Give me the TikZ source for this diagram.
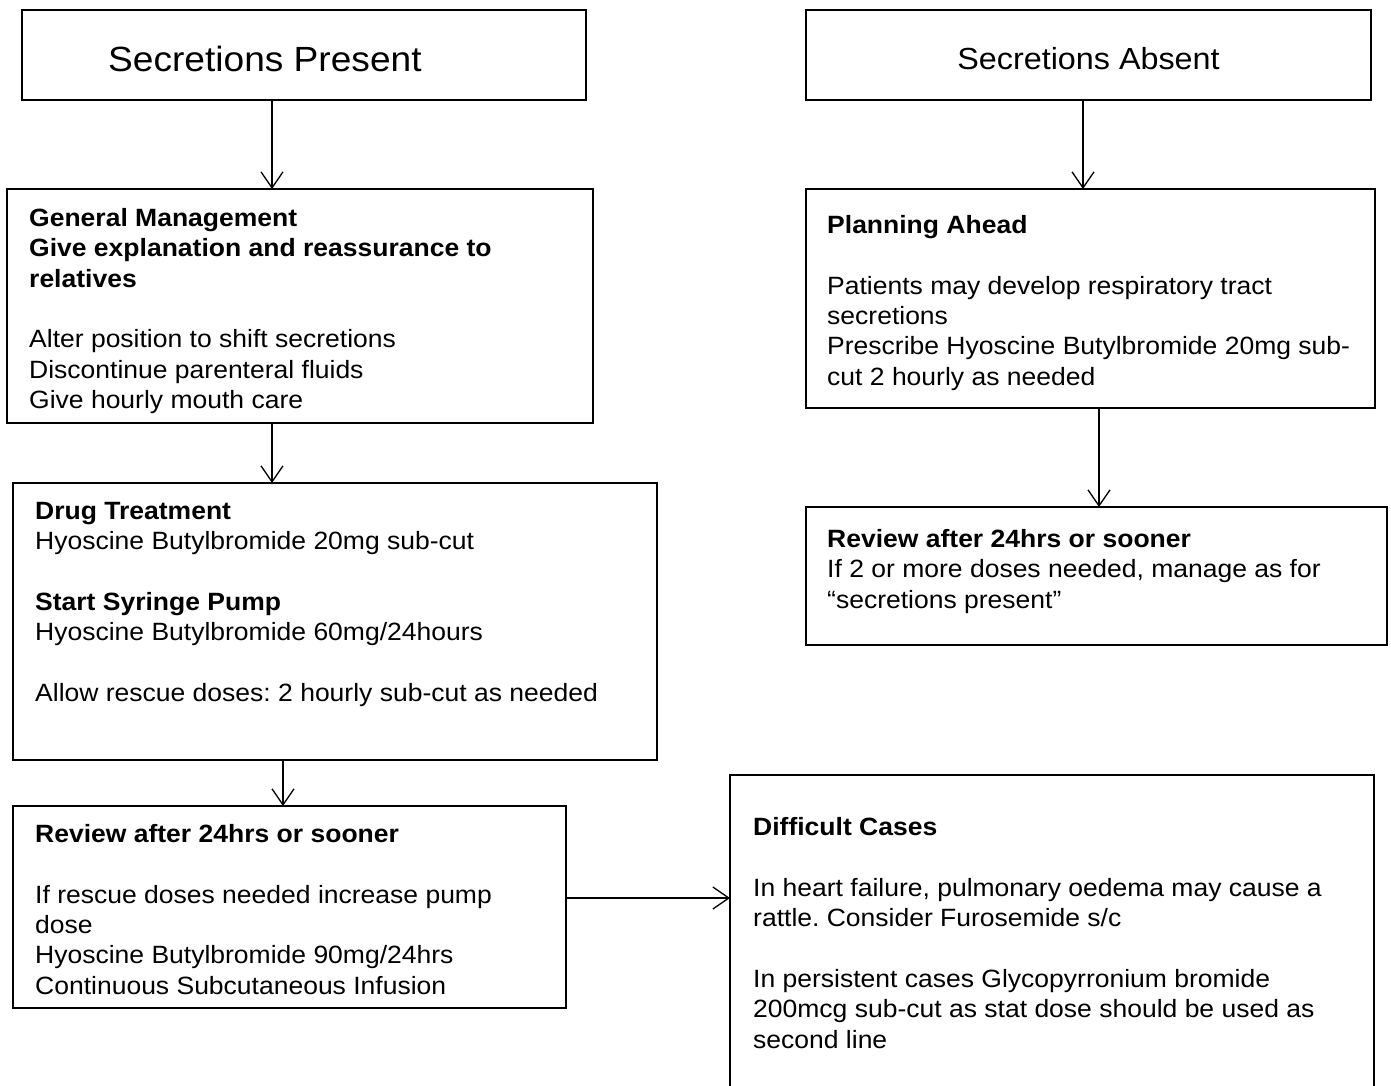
\documentclass[tikz,border=0pt]{standalone}
\usepackage{fontspec}
\setmainfont{Liberation Sans}[FakeStretch=1.06]
\usetikzlibrary{arrows.meta}
\frenchspacing
\begin{document}
\begin{tikzpicture}[x=1pt,y=-1pt,
  box/.style={draw,line width=2.8pt,inner sep=0pt,outer sep=0pt,anchor=north west},
  txt/.style={anchor=north west,align=left,inner sep=0pt,font=\fontsize{25}{30.4}\selectfont},
  arr/.style={line width=1.3pt,-{Straight Barb[length=16pt,width=22pt,line width=1.3pt]}}]
\useasboundingbox (0,0) rectangle (1391,1086);
\clip (0,0) rectangle (1391,1086);
% boxes
\node[box,minimum width=564pt,minimum height=90pt]  (b1) at (22,10) {};
\node[box,minimum width=565pt,minimum height=90pt]  (b2) at (806,10) {};
\node[box,minimum width=586pt,minimum height=234pt] (b3) at (7,189) {};
\node[box,minimum width=569pt,minimum height=219pt] (b4) at (806,189) {};
\node[box,minimum width=644pt,minimum height=277pt] (b5) at (13,483) {};
\node[box,minimum width=581pt,minimum height=138pt] (b6) at (806,507) {};
\node[box,minimum width=553pt,minimum height=202pt] (b7) at (13,806) {};
\node[box,minimum width=644pt,minimum height=330pt] (b8) at (730,775) {};
% titles
\node[anchor=base west,inner sep=0pt,font=\fontsize{35}{40}\selectfont] (t1) at (108,72) {Secretions Present};
\node[anchor=base,inner sep=0pt,font=\fontsize{30.5}{36}\selectfont] (t2) at (1088.5,69.5) {Secretions Absent};
% texts
\node[txt] (t3) at (29,206) {\rule{0pt}{20pt}\textbf{General Management}\\
  \textbf{Give explanation and reassurance to}\\
  \textbf{relatives}\\[30.4pt]
  Alter position to shift secretions\\
  Discontinue parenteral fluids\\
  Give hourly mouth care};
\node[txt] (t4) at (827,213) {\rule{0pt}{20pt}\textbf{Planning Ahead}\\[30.4pt]
  Patients may develop respiratory tract\\
  secretions\\
  Prescribe Hyoscine Butylbromide 20mg sub-\\
  cut 2 hourly as needed};
\node[txt] (t5) at (35,499) {\rule{0pt}{20pt}\textbf{Drug Treatment}\\
  Hyoscine Butylbromide 20mg sub-cut\\[30.4pt]
  \textbf{Start Syringe Pump}\\
  Hyoscine Butylbromide 60mg/24hours\\[30.4pt]
  Allow rescue doses: 2 hourly sub-cut as needed};
\node[txt] (t6) at (827,527) {\rule{0pt}{20pt}\textbf{Review after 24hrs or sooner}\\
  If 2 or more doses needed, manage as for\\
  “secretions present”};
\node[txt] (t7) at (35,822) {\rule{0pt}{20pt}\textbf{Review after 24hrs or sooner}\\[30.4pt]
  If rescue doses needed increase pump\\
  dose\\
  Hyoscine Butylbromide 90mg/24hrs\\
  Continuous Subcutaneous Infusion};
\node[txt] (t8) at (753,815) {\rule{0pt}{20pt}\textbf{Difficult Cases}\\[30.4pt]
  In heart failure, pulmonary oedema may cause a\\
  rattle. Consider Furosemide s/c\\[30.4pt]
  In persistent cases Glycopyrronium bromide\\
  200mcg sub-cut as stat dose should be used as\\
  second line};
% connector positions
\coordinate (c1) at (272,0);
\coordinate (c3) at (283,0);
\coordinate (c4) at (0,898);
\coordinate (c5) at (1083,0);
\coordinate (c6) at (1099,0);
% connectors
\draw[arr] (b1.south -| c1) -- (b3.north -| c1);
\draw[arr] (b3.south -| c1) -- (b5.north -| c1);
\draw[arr] (b5.south -| c3) -- (b7.north -| c3);
\draw[arr] (b7.east |- c4) -- (b8.west |- c4);
\draw[arr] (b2.south -| c5) -- (b4.north -| c5);
\draw[arr] (b4.south -| c6) -- (b6.north -| c6);
\end{tikzpicture}
\end{document}
